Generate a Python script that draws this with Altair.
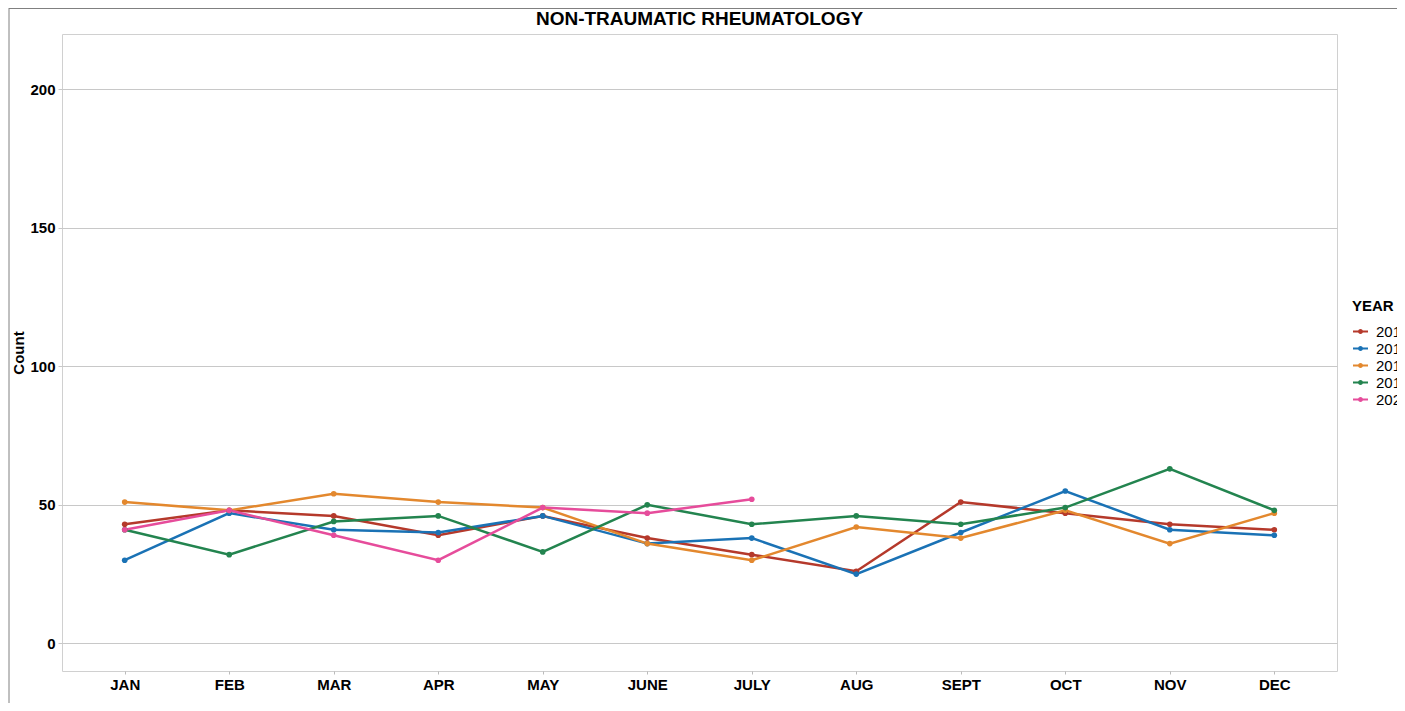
import altair as alt
import pandas as pd

months = ["JAN", "FEB", "MAR", "APR", "MAY", "JUNE", "JULY", "AUG", "SEPT", "OCT", "NOV", "DEC"]
years = ["2016", "2017", "2018", "2019", "2020"]
y2016 = [43, 48, 46, 39, 46, 38, 32, 26, 51, 47, 43, 41]
y2017 = [30, 47, 41, 40, 46, 36, 38, 25, 40, 55, 41, 39]
y2018 = [51, 48, 54, 51, 49, 36, 30, 42, 38, 48, 36, 47]
y2019 = [41, 32, 44, 46, 33, 50, 43, 46, 43, 49, 63, 48]
y2020 = [41, 48, 39, 30, 49, 47, 52]
colors = ["#B5392B", "#1A72B5", "#E3882E", "#23844F", "#E64C9B"]

series = [y2016, y2017, y2018, y2019, y2020]
rows = []
for yr, vals in zip(years, series):
    for m, v in zip(months, vals):
        rows.append({"month": m, "YEAR": yr, "Count": v})
df = pd.DataFrame(rows)

FONT = "Liberation Sans"
sym = "M-1,0L1,0M-0.2,0A0.2,0.2,0,1,1,0.2,0A0.2,0.2,0,1,1,-0.2,0Z"

lines = alt.Chart(df).mark_line(
    strokeWidth=2.5,
    point=alt.OverlayMarkDef(size=32, filled=True, opacity=1),
).encode(
    x=alt.X("month:N", sort=months, title=None,
            scale=alt.Scale(type="point", padding=0.6),
            axis=alt.Axis(labelAngle=0, labelFontSize=15, labelFontWeight="bold",
                          labelColor="black", labelFont=FONT, labelPadding=3,
                          tickSize=3, tickColor="#bbbbbb", domain=False, grid=False)),
    y=alt.Y("Count:Q", title="Count",
            scale=alt.Scale(domain=[-10, 220], nice=False, zero=False),
            axis=alt.Axis(values=[0, 50, 100, 150, 200], labelFontSize=15,
                          labelFontWeight="bold", labelColor="black", labelFont=FONT,
                          labelPadding=3, tickSize=4, tickColor="#c8c8c8",
                          gridColor="#c8c8c8", gridWidth=1, domain=False,
                          titleFontSize=15, titleFontWeight="bold", titleFont=FONT,
                          titleColor="black", titlePadding=3)),
    color=alt.Color("YEAR:N", scale=alt.Scale(domain=years, range=colors),
                    legend=alt.Legend(title="YEAR", orient="none", legendX=1290, legendY=265,
                                      titleFontSize=15, titleFontWeight="bold", titleFont=FONT,
                                      titleColor="black", titlePadding=9,
                                      labelFontSize=15, labelFont=FONT, labelColor="black",
                                      labelOffset=7, symbolType=sym, symbolSize=225,
                                      symbolStrokeWidth=2, rowPadding=0)),
)

frame_data = alt.Data(values=[{"k": 1}])
frame_left = alt.Chart(frame_data).mark_rule(color="#808080", strokeWidth=1, clip=False).encode(
    x=alt.value(-53), y=alt.value(-26), y2=alt.value(669))
frame_top = alt.Chart(frame_data).mark_rule(color="#808080", strokeWidth=1, clip=False).encode(
    x=alt.value(-53), x2=alt.value(1340), y=alt.value(-25.5))

chart = alt.layer(lines, frame_left, frame_top).properties(
    width=1275,
    height=637,
    padding={"left": 54, "top": 26, "right": 60, "bottom": 32},
    autosize=alt.AutoSizeParams(type="none"),
    title=alt.TitleParams("NON-TRAUMATIC RHEUMATOLOGY", fontSize=19, fontWeight="bold",
                          font=FONT, color="black", anchor="middle", offset=0, dy=21,
                          frame="group"),
).configure_view(stroke="#d0d0d0", strokeWidth=1)

chart.save("out.html", embed_options={"renderer": "svg", "actions": False})
